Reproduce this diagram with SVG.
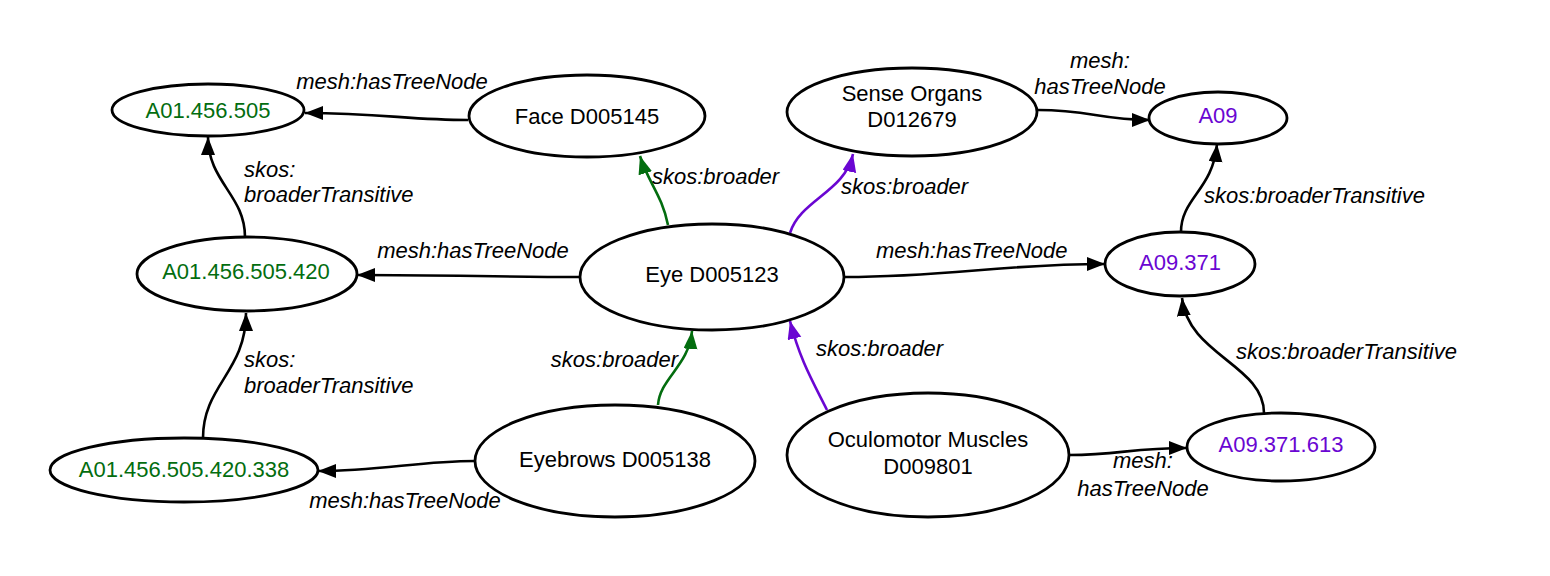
<svg xmlns="http://www.w3.org/2000/svg" width="1550" height="576" viewBox="0 0 1550 576">
<style>
.node ellipse{fill:#fff;stroke:#000;stroke-width:2.8}
.t{font-family:"Liberation Sans",Arial,sans-serif;font-size:22px;text-anchor:middle;fill:#000}
.g{fill:#036d0f}
.p{fill:#6a06d2}
.lbl{font-family:"Liberation Sans",Arial,sans-serif;font-size:22px;font-style:italic;fill:#000}
.e{fill:none;stroke-width:2.6}
.k{stroke:#000}
.eg{stroke:#036d0f}
.ep{stroke:#6a06d2}
</style>
<defs>
<marker id="ak" markerUnits="userSpaceOnUse" markerWidth="20" markerHeight="16" refX="18" refY="7" orient="auto"><path d="M0,0 L18,7 L0,14 z" fill="#000"/></marker>
<marker id="ag" markerUnits="userSpaceOnUse" markerWidth="20" markerHeight="16" refX="18" refY="7" orient="auto"><path d="M0,0 L18,7 L0,14 z" fill="#036d0f"/></marker>
<marker id="ap" markerUnits="userSpaceOnUse" markerWidth="20" markerHeight="16" refX="18" refY="7" orient="auto"><path d="M0,0 L18,7 L0,14 z" fill="#6a06d2"/></marker>
</defs>
<rect width="1550" height="576" fill="#fff"/>
<g id="connectors">
<path class="e k" d="M468,120 C410,120 380,113 305,113" marker-end="url(#ak)"/>
<text class="lbl" x="392" y="89" text-anchor="middle">mesh:hasTreeNode</text>
<path class="e k" d="M245,237 C245,195 208,182 208,137" marker-end="url(#ak)"/>
<text class="lbl" x="244" y="177">skos:</text>
<text class="lbl" x="244" y="202">broaderTransitive</text>
<path class="e k" d="M580,277 C500,277 450,275 357,275" marker-end="url(#ak)"/>
<text class="lbl" x="473" y="258" text-anchor="middle">mesh:hasTreeNode</text>
<path class="e eg" d="M668,225 C662,195 648,182 640,156" marker-end="url(#ag)"/>
<text class="lbl" x="652" y="184">skos:broader</text>
<path class="e ep" d="M790,233 C800,200 845,192 853,154" marker-end="url(#ap)"/>
<text class="lbl" x="841" y="194">skos:broader</text>
<path class="e k" d="M1038,110 C1090,110 1100,120 1150,120" marker-end="url(#ak)"/>
<text class="lbl" x="1100" y="68" text-anchor="middle">mesh:</text>
<text class="lbl" x="1100" y="94" text-anchor="middle">hasTreeNode</text>
<path class="e k" d="M1181,232 C1181,198 1213,190 1217,144" marker-end="url(#ak)"/>
<text class="lbl" x="1204" y="203">skos:broaderTransitive</text>
<path class="e k" d="M845,277 C950,277 1000,264 1105,264" marker-end="url(#ak)"/>
<text class="lbl" x="876" y="258">mesh:hasTreeNode</text>
<path class="e eg" d="M658,405 C660,378 689,366 692,331" marker-end="url(#ag)"/>
<text class="lbl" x="678" y="367" text-anchor="end">skos:broader</text>
<path class="e ep" d="M827,410 C812,380 800,360 790,321" marker-end="url(#ap)"/>
<text class="lbl" x="816" y="356">skos:broader</text>
<path class="e k" d="M475,461 C420,461 380,471 318,471" marker-end="url(#ak)"/>
<text class="lbl" x="405" y="508" text-anchor="middle">mesh:hasTreeNode</text>
<path class="e k" d="M203,438 C203,385 246,372 246,313" marker-end="url(#ak)"/>
<text class="lbl" x="244" y="367">skos:</text>
<text class="lbl" x="244" y="393">broaderTransitive</text>
<path class="e k" d="M1264,413 C1264,365 1188,355 1182,298" marker-end="url(#ak)"/>
<text class="lbl" x="1236" y="359">skos:broaderTransitive</text>
<path class="e k" d="M1069,455 C1120,455 1130,448 1187,448" marker-end="url(#ak)"/>
<text class="lbl" x="1143" y="468" text-anchor="middle">mesh:</text>
<text class="lbl" x="1143" y="496" text-anchor="middle">hasTreeNode</text>
</g>
<g id="n-a01-456-505" class="node"><ellipse cx="208" cy="110" rx="96" ry="26"/><text class="t g" x="208" y="118">A01.456.505</text></g>
<g id="n-face" class="node"><ellipse cx="587" cy="116" rx="118" ry="41"/><text class="t" x="587" y="124">Face D005145</text></g>
<g id="n-sense" class="node"><ellipse cx="912" cy="112" rx="125" ry="44"/><text class="t" x="912" y="101">Sense Organs</text><text class="t" x="912" y="127">D012679</text></g>
<g id="n-a09" class="node"><ellipse cx="1218" cy="118" rx="69" ry="26"/><text class="t p" x="1218" y="123">A09</text></g>
<g id="n-a01-456-505-420" class="node"><ellipse cx="247" cy="274" rx="110" ry="37"/><text class="t g" x="246" y="279">A01.456.505.420</text></g>
<g id="n-eye" class="node"><ellipse cx="712" cy="277" rx="132" ry="53"/><text class="t" x="712" y="282">Eye D005123</text></g>
<g id="n-a09-371" class="node"><ellipse cx="1180" cy="264" rx="75" ry="32"/><text class="t p" x="1180" y="270">A09.371</text></g>
<g id="n-a01-338" class="node"><ellipse cx="184" cy="470" rx="134" ry="32"/><text class="t g" x="184" y="477">A01.456.505.420.338</text></g>
<g id="n-eyebrows" class="node"><ellipse cx="615" cy="461" rx="140" ry="56"/><text class="t" x="615" y="467">Eyebrows D005138</text></g>
<g id="n-oculomotor" class="node"><ellipse cx="928" cy="455" rx="141" ry="62"/><text class="t" x="928" y="447">Oculomotor Muscles</text><text class="t" x="928" y="474">D009801</text></g>
<g id="n-a09-371-613" class="node"><ellipse cx="1281" cy="447" rx="94" ry="34"/><text class="t p" x="1281" y="452">A09.371.613</text></g>
</svg>
